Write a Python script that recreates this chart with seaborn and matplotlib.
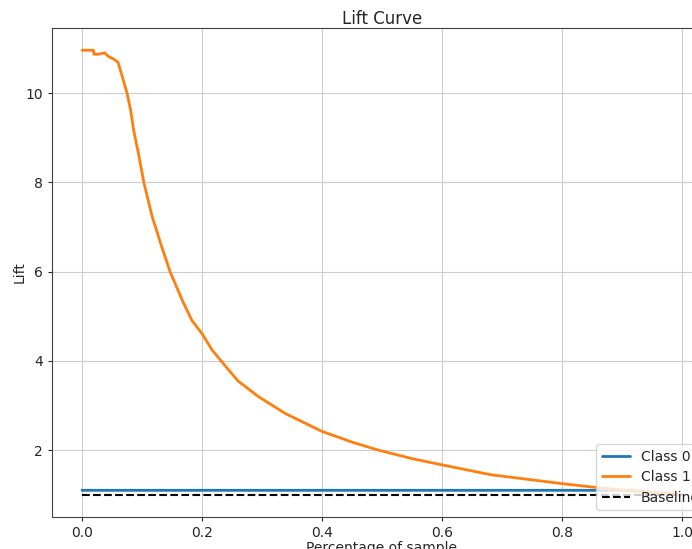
import numpy as np
import pandas as pd
import matplotlib
matplotlib.use("Agg")
import matplotlib.pyplot as plt
import seaborn as sns

# Lift curve values
class1_x = [0.0, 0.019, 0.02, 0.027, 0.038, 0.044, 0.053, 0.06, 0.068, 0.075,
            0.081, 0.086, 0.094, 0.103, 0.117, 0.133, 0.147, 0.167, 0.183, 0.2,
            0.217, 0.238, 0.26, 0.295, 0.339, 0.4, 0.45, 0.494, 0.55, 0.6,
            0.681, 0.8, 0.866, 0.93, 1.0]
class1_lift = [10.96, 10.96, 10.87, 10.87, 10.9, 10.82, 10.76, 10.69, 10.33, 10.0,
               9.62, 9.17, 8.65, 8.0, 7.23, 6.55, 5.99, 5.36, 4.91, 4.61,
               4.24, 3.9, 3.55, 3.19, 2.82, 2.42, 2.18, 2.0, 1.81, 1.67,
               1.45, 1.25, 1.15, 1.07, 1.0]

class0_x = [0.0, 0.5, 0.91, 1.0]
class0_lift = [1.1, 1.1, 1.1, 1.0]

baseline_x = [0.0, 1.0]
baseline_lift = [1.0, 1.0]

sns.set_style("whitegrid", {"axes.edgecolor": ".25", "grid.color": ".8",
                            "xtick.bottom": True, "ytick.left": True,
                            "xtick.color": ".15", "ytick.color": ".15"})
plt.rcParams["font.family"] = ["DejaVu Sans"]

fig = plt.figure(figsize=(6.92, 5.49), dpi=100)
# axes runs past the right edge, like the cropped original
ax = fig.add_axes([52 / 692, 32 / 549, 660 / 692, 489 / 549])

sns.lineplot(x=class0_x, y=class0_lift, ax=ax, label="Class 0",
             color="tab:blue", linewidth=2)
sns.lineplot(x=class1_x, y=class1_lift, ax=ax, label="Class 1",
             color="tab:orange", linewidth=2)
sns.lineplot(x=baseline_x, y=baseline_lift, ax=ax, label="Baseline",
             color="k", linestyle="--", linewidth=1.5)

ax.set_title("Lift Curve", fontsize=12, pad=3)
ax.set_xlabel("Percentage of sample", fontsize=10, labelpad=0.5)
ax.set_ylabel("Lift", fontsize=10, labelpad=-1)
ax.tick_params(labelsize=10, length=3, width=0.8, colors=".15")
ax.set_xticks([0.0, 0.2, 0.4, 0.6, 0.8, 1.0])
ax.set_yticks([2, 4, 6, 8, 10])
ax.legend(loc="lower right", fontsize=10, labelspacing=0.45)

fig.savefig("out.png", dpi=100)
